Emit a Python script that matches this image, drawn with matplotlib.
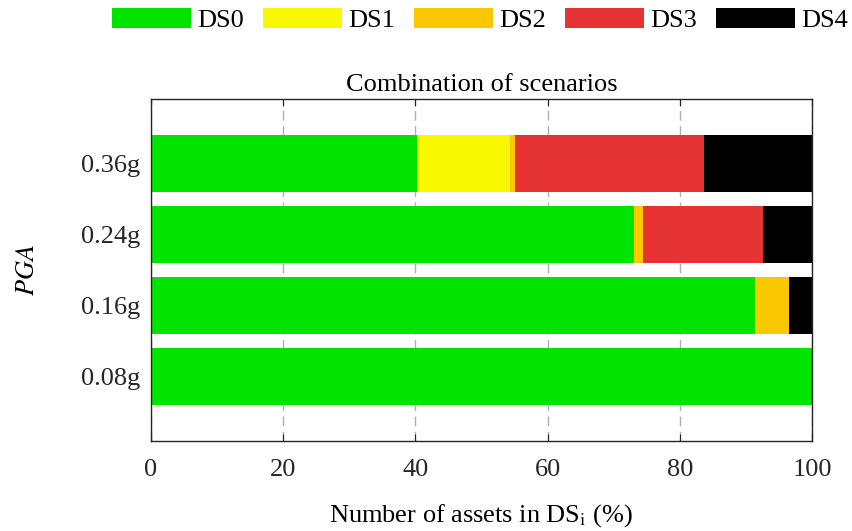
import matplotlib
matplotlib.use("Agg")
import matplotlib.pyplot as plt
import numpy as np

plt.rcParams['font.family'] = ['Liberation Serif', 'DejaVu Serif']
plt.rcParams['mathtext.fontset'] = 'stix'
plt.rcParams['font.size'] = 19

pga = ['0.08g', '0.16g', '0.24g', '0.36g']
ds_labels = ['DS0', 'DS1', 'DS2', 'DS3', 'DS4']
ds_colors = ['#00e400', '#f8f800', '#f9c800', '#e53333', '#000000']

# share of assets (%) in each damage state, one value per PGA level
ds0 = [100.0, 91.4, 73.1, 40.3]
ds1 = [0.0, 0.0, 0.0, 14.0]
ds2 = [0.0, 5.1, 1.3, 0.7]
ds3 = [0.0, 0.0, 18.2, 28.6]
ds4 = [0.0, 3.5, 7.4, 16.4]

fig = plt.figure(figsize=(8.52, 5.31), dpi=100)
ax = fig.add_axes([0.1772, 0.1695, 0.7758, 0.6441])

y = np.arange(1, len(pga) + 1)
left = np.zeros(len(pga))
for vals, lab, col in zip([ds0, ds1, ds2, ds3, ds4], ds_labels, ds_colors):
    ax.barh(y, vals, left=left, height=0.8, color=col, label=lab, linewidth=0)
    left += np.array(vals)

ax.set_xlim(0, 100)
ax.set_ylim(0.1, 4.9)
ax.set_xticks([0, 20, 40, 60, 80, 100])
ax.set_yticks(y)
ax.set_yticklabels(pga)
ax.set_axisbelow(True)
ax.grid(axis='x', color='#b0b0b0', linewidth=1.0, dashes=(7, 4))
ax.tick_params(direction='in', top=True, right=True, length=5, width=0.8,
               colors='#262626')
ax.tick_params(axis='x', pad=13)
ax.tick_params(axis='y', pad=8)
for sp in ax.spines.values():
    sp.set_color('#262626')
    sp.set_linewidth(1.0)

ax.set_title('Combination of scenarios', fontsize=19, pad=6)
ax.set_xlabel('Number of assets in DS$_{\\mathrm{i}}$ (%)', labelpad=15)
ax.set_ylabel('$PGA$', labelpad=30)

fig.legend(loc='center', bbox_to_anchor=(480 / 852, 0.962), ncol=5,
           frameon=False, handlelength=3.0, handleheight=0.75,
           handletextpad=0.25, columnspacing=0.7, borderaxespad=0)

fig.savefig('out.png', dpi=100)
